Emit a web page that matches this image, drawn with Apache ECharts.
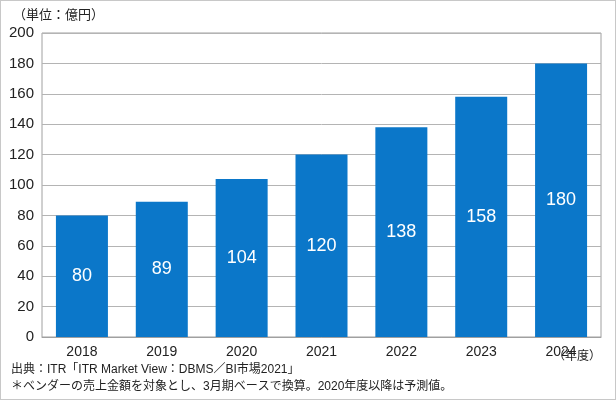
<!DOCTYPE html>
<html lang="ja">
<head>
<meta charset="UTF-8">
<title>DBMS/BI market</title>
<style>
    html, body { margin: 0; padding: 0; background: #fff; }
    #chart { width: 614px; height: 398px; border: 1px solid #c8c8c8; }
</style>
</head>
<body>
<div id="chart"></div>
<script src="https://cdn.jsdelivr.net/npm/echarts@6/dist/echarts.min.js"></script>
<script>
var years = ['2018', '2019', '2020', '2021', '2022', '2023', '2024'];
var sales = [80, 89, 104, 120, 138, 158, 180];
var font = 'Arial, "Liberation Sans", "Noto Sans CJK JP", sans-serif';

var chart = echarts.init(document.getElementById('chart'));
chart.setOption({
    animation: false,
    textStyle: { fontFamily: font },
    grid: { left: 41, right: 14, top: 32, bottom: 62, show: true, borderColor: '#a0a0a0', borderWidth: 1 },
    graphic: [
        { type: 'text', left: 12, top: 8, style: { text: '（単位：億円）', fontSize: 13, fill: '#222', fontFamily: font } },
        { type: 'text', right: 14, top: 350, style: { text: '（年度）', fontSize: 12, fill: '#222', fontFamily: font } },
        { type: 'text', left: 10, top: 363, style: { text: '出典：ITR「ITR Market View：DBMS／BI市場2021」', fontSize: 12, fill: '#222', fontFamily: font } },
        { type: 'text', left: 10, top: 380, style: { text: '＊ベンダーの売上金額を対象とし、3月期ベースで換算。2020年度以降は予測値。', fontSize: 12, fill: '#222', fontFamily: font } }
    ],
    xAxis: {
        type: 'category',
        data: years,
        axisLine: { lineStyle: { color: '#a0a0a0' } },
        axisTick: { show: false },
        axisLabel: { color: '#222', fontSize: 14, margin: 8 }
    },
    yAxis: {
        type: 'value',
        min: 0, max: 200, interval: 20,
        axisLine: { show: false },
        axisTick: { show: false },
        axisLabel: { color: '#222', fontSize: 15, margin: 8 },
        splitLine: { lineStyle: { color: '#b4b4b4' } }
    },
    series: [{
        type: 'bar',
        data: sales,
        barWidth: 52,
        itemStyle: { color: '#0b77c9' },
        label: { show: true, position: 'inside', color: '#fff', fontSize: 18 }
    }]
});
</script>
</body>
</html>
